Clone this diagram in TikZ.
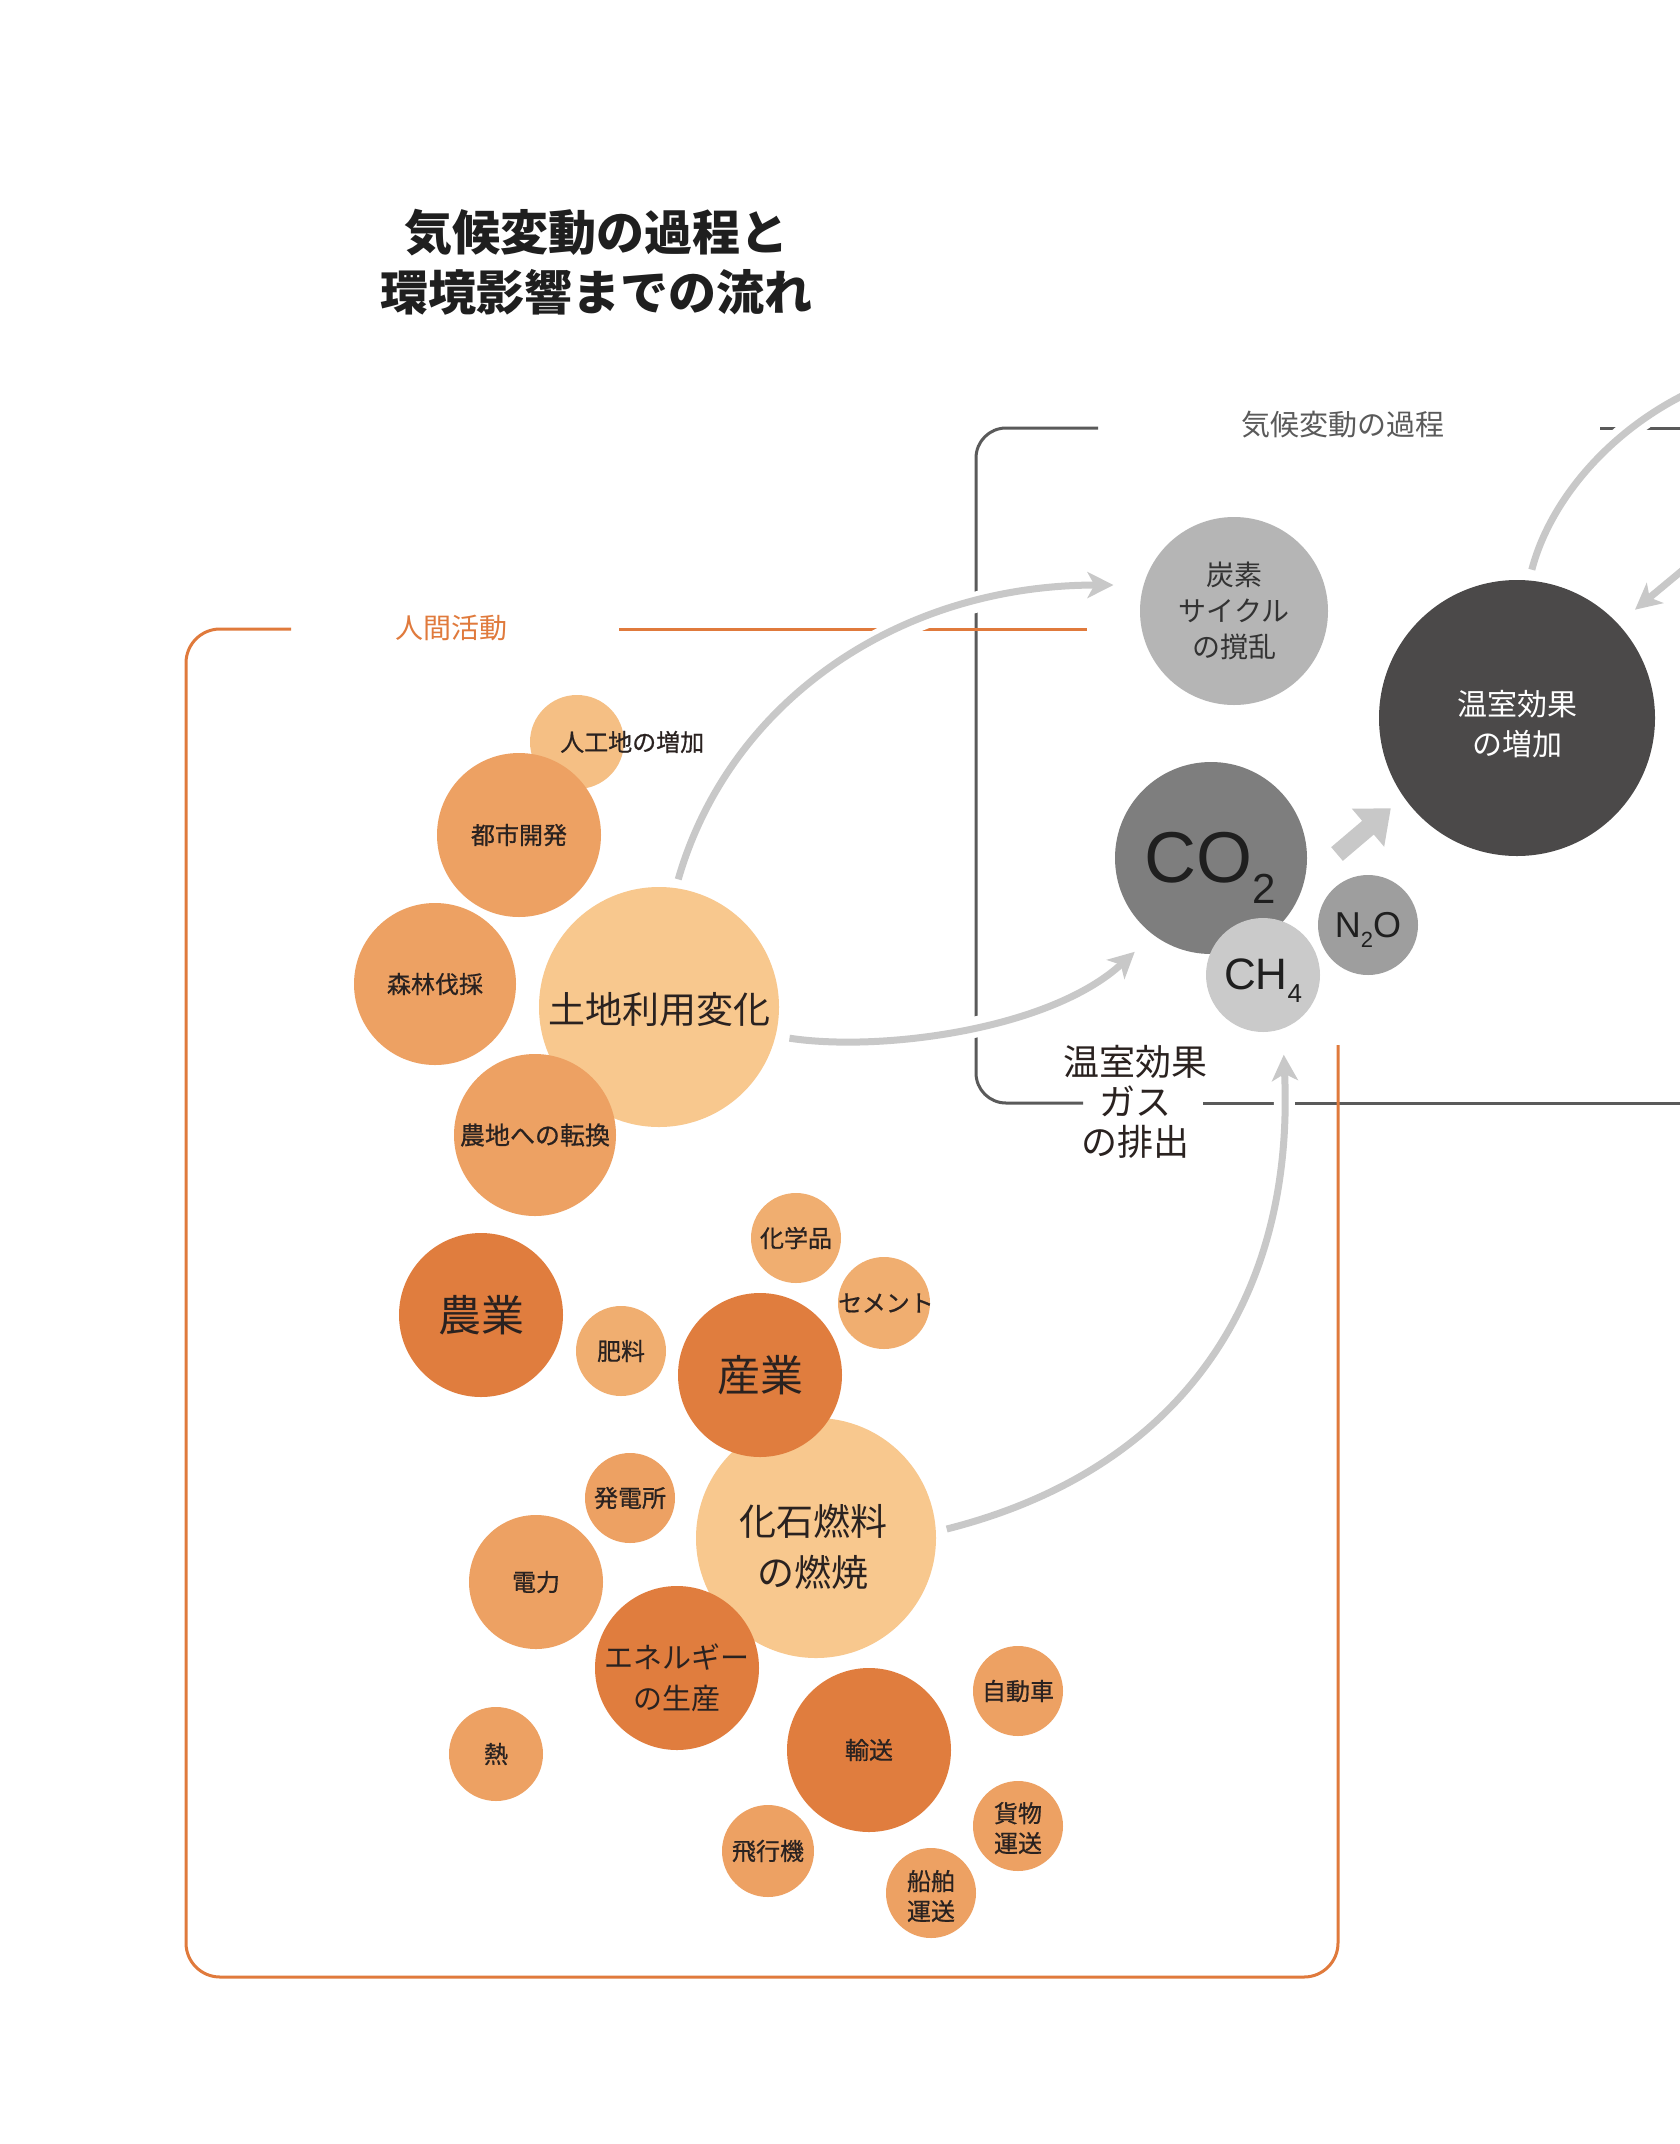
\documentclass[tikz,border=0pt]{standalone}
\usepackage{fontspec}
\setmainfont{Noto Sans CJK JP}
\newfontfamily\medjp[FakeBold=0.7]{Noto Sans CJK JP}
\newfontfamily\lat{Liberation Sans}
\usetikzlibrary{arrows.meta,calc}
\pgfdeclarelayer{bg}
\pgfdeclarelayer{mid}
\pgfsetlayers{bg,mid,main}
\definecolor{ordark}{HTML}{E07D3E}
\definecolor{ormed}{HTML}{EDA163}
\definecolor{orml}{HTML}{F0AE70}
\definecolor{orpale}{HTML}{F5BF84}
\definecolor{orlight}{HTML}{F8C88E}
\definecolor{orline}{HTML}{E07A3C}
\definecolor{grline}{HTML}{5A5A5A}
\definecolor{arrowgray}{HTML}{C8C8C8}
\definecolor{txt}{HTML}{2A2220}
\definecolor{gcarbon}{HTML}{B5B5B5}
\definecolor{gghg}{HTML}{4B4949}
\definecolor{gco}{HTML}{7E7E7E}
\definecolor{gch}{HTML}{CACACA}
\definecolor{gno}{HTML}{9E9E9E}
\newcommand\fs[2]{\fontsize{#1pt}{#2pt}\selectfont}
\begin{document}
\begin{tikzpicture}[x=1pt,y=-1pt,
  bub/.style={circle, inner sep=0pt, minimum size=#1},
  lbl/.style={align=center, text=txt, inner sep=0pt},
  small/.style={lbl, font=\medjp\fs{24}{30}},
  grayline/.style={draw=grline, line width=3pt},
  orangeline/.style={draw=orline, line width=3pt},
  flowline/.style={draw=arrowgray, line width=7pt, preaction={draw=white, line width=21pt, arrows=-}},
  flow/.style={flowline, -{Stealth[length=26pt,width=26pt,inset=7pt]}},
  blockarrow/.style={draw=arrowgray, line width=18pt, -{Triangle[length=30pt,width=48pt]}},
]
\useasboundingbox (0,0) rectangle (1680,2144);

% ---------- circles ----------
\node[bub=94pt, fill=orpale] (jinko) at (577,742) {};
\node[bub=164pt, fill=ormed] (toshi) at (519,835) {};
\node[bub=162pt, fill=ormed] (shinrin) at (435,984) {};
\node[bub=240pt, fill=orlight] (lu) at (659,1007) {};
\node[bub=162pt, fill=ormed] (nochi) at (535,1135) {};
\node[bub=90pt, fill=orml] (kagaku) at (796,1238) {};
\node[bub=92pt, fill=orml] (cement) at (884,1303) {};
\node[bub=164pt, fill=ordark] (nogyo) at (481,1315) {};
\node[bub=90pt, fill=orml] (hiryo) at (621,1351) {};
\node[bub=240pt, fill=orlight] (fossil) at (816,1538) {};
\node[bub=164pt, fill=ordark] (sangyo) at (760,1375) {};
\node[bub=90pt, fill=ormed] (hatsuden) at (630,1498) {};
\node[bub=134pt, fill=ormed] (denryoku) at (536,1582) {};
\node[bub=164pt, fill=ordark] (energy) at (677,1668) {};
\node[bub=94pt, fill=ormed] (netsu) at (496,1754) {};
\node[bub=164pt, fill=ordark] (yuso) at (869,1750) {};
\node[bub=90pt, fill=ormed] (jidosha) at (1018,1691) {};
\node[bub=92pt, fill=ormed] (hikoki) at (768,1851) {};
\node[bub=90pt, fill=ormed] (kamotsu) at (1018,1826) {};
\node[bub=90pt, fill=ormed] (senpaku) at (931,1893) {};

\node[bub=188pt, fill=gcarbon] (carbon) at (1234,611) {};
\node[bub=276pt, fill=gghg] (ghg) at (1517,718) {};
\node[bub=192pt, fill=gco] (co2) at (1211,858) {};
\node[bub=114pt, fill=gch] (ch4) at (1263,975) {};
\node[bub=100pt, fill=gno] (n2o) at (1368,925) {};

% ---------- texts ----------
\node[lbl, font=\bfseries\fs{48}{60}, text=black!88] (title) at (596,262) {気候変動の過程と\\環境影響までの流れ};
\node[lbl, font=\fs{28}{28}, text=orline] (human) at (451,628) {人間活動};
\node[lbl, font=\fs{29}{29}, text=grline] (climate) at (1343,425) {気候変動の過程};
\node[lbl, font=\fs{36}{40}] (gas) at (1135,1102) {温室効果\\ガス\\の排出};

\node[small, anchor=west] (t-jinko) at (560,742) {人工地の増加};
\node[small] (t-toshi) at (toshi) {都市開発};
\node[small] (t-shinrin) at (shinrin) {森林伐採};
\node[lbl, font=\fs{37}{44}] (t-lu) at (659,1010) {土地利用変化};
\node[small, font=\medjp\fs{25}{30}] (t-nochi) at (nochi) {農地への転換};
\node[small] (t-kagaku) at (kagaku) {化学品};
\node[small] (t-cement) at (886,1303) {セメント};
\node[lbl, font=\fs{43}{43}] (t-nogyo) at (nogyo) {農業};
\node[small] (t-hiryo) at (hiryo) {肥料};
\node[lbl, font=\fs{43}{43}] (t-sangyo) at (sangyo) {産業};
\node[lbl, font=\fs{37}{51}] (t-fossil) at (813,1547) {化石燃料\\の燃焼};
\node[small] (t-hatsuden) at (hatsuden) {発電所};
\node[small] (t-denryoku) at (denryoku) {電力};
\node[lbl, font=\fs{29}{41}] (t-energy) at (677,1678) {エネルギー\\の生産};
\node[small] (t-netsu) at (netsu) {熱};
\node[small] (t-yuso) at (yuso) {輸送};
\node[small] (t-jidosha) at (jidosha) {自動車};
\node[small] (t-hikoki) at (hikoki) {飛行機};
\node[small] (t-kamotsu) at (1018,1828) {貨物\\運送};
\node[small] (t-senpaku) at (931,1896) {船舶\\運送};

\node[lbl, font=\fs{28}{36}, text=black!80] (t-carbon) at (carbon) {炭素\\サイクル\\の撹乱};
\node[lbl, font=\fs{30}{40}, text=white] (t-ghg) at (1517,724) {温室効果\\の増加};
\node[lbl, font=\lat\fs{72}{72}, text=black!88] (t-co2) at (1210,868) {CO\raisebox{-0.3em}{\fs{42}{42}2}};
\node[lbl, font=\lat\fs{44}{44}, text=black!88] (t-ch4) at (1263,981) {CH\raisebox{-0.3em}{\fs{26}{26}4}};
\node[lbl, font=\lat\fs{36}{36}, text=black!88] (t-n2o) at (1368,930) {N\raisebox{-0.3em}{\fs{22}{22}2}O};

% ---------- box lines ----------
\begin{pgfonlayer}{bg}
\fill[white] (0,0) rectangle (1680,2144);
\draw[grayline, rounded corners=30pt] (1098,428) -| (976,1103) -- (1083,1103);
\draw[grayline] (1203,1103) -- (1680,1103);
\draw[grayline] (1600,428) -- (1680,428);
\draw[orangeline, rounded corners=34pt] (291,629) -| (186,1977) -| (1338,1045);
\draw[orangeline] (619,629) -- (1087,629);
\end{pgfonlayer}

% ---------- connectors ----------
\coordinate (off1) at (1690,392);
\coordinate (off2) at (1690,564);
\coordinate (ba) at (1337,854);
\begin{pgfonlayer}{mid}
\draw[flow, shorten <=9pt, shorten >=30pt] (lu.82) .. controls (730,700) and (900,585) .. (carbon.164);
\draw[flow, shorten <=14pt, shorten >=25pt] (lu.-14) .. controls (880,1052) and (1050,1030) .. (co2.233);
\draw[flow, shorten <=11pt, shorten >=26pt] (fossil.3) .. controls (1180,1470) and (1295,1300) .. (ch4.290);
\draw[flowline, shorten <=11pt] (ghg.85) .. controls (1550,500) and (1610,430) .. (off1);
\draw[flow, shorten >=22pt] (off2) -- (ghg.43);
\draw[blockarrow, shorten >=17pt] (ba) -- (ghg.215);
\end{pgfonlayer}
\end{tikzpicture}
\end{document}
